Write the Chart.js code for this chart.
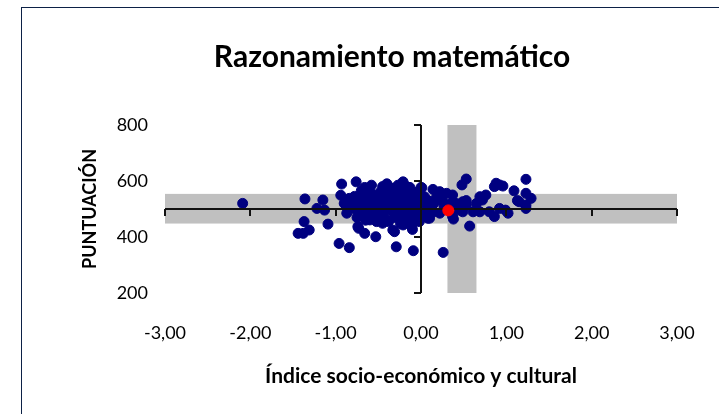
<!DOCTYPE html>
<html>
<head>
<meta charset="utf-8">
<script src="https://cdn.jsdelivr.net/npm/chart.js@4"></script>
<style>
  html, body { margin: 0; padding: 0; background: #fff; }
  #wrap { position: relative; width: 719px; height: 414px; }
  #frame { position: absolute; left: 21px; top: 7px; width: 697px; height: 420px;
           border: 1px solid #0c2146; border-bottom: none; }
</style>
</head>
<body>
<div id="wrap">
  <canvas id="chart" width="719" height="414"></canvas>
  <div id="frame"></div>
</div>
<script>
// indice socio-economico (x) / puntuacion (y) de cada centro
var indice = [
  -2.09, -1.36, -1.15, -1.22, -1.13, -1.37, -1.38, -1.31, -1.44, -1.09, -0.96, -0.84,
  -0.93, -0.94, -0.76, -0.66, -0.84, -0.87, -0.74, -0.66, -0.53, -0.73,
  -0.29, -0.09, -0.31, -0.10, -0.21, -0.13, -0.31, -0.45, -0.49, 0.00, 0.14, -0.22,
  -0.60, -0.45, -0.21, -0.06, 0.08, -0.33, -0.11,
  -0.80, -0.78, -0.72, -0.70, -0.68, -0.65, -0.62, -0.60, -0.58, -0.55, -0.55, -0.52,
  -0.50, -0.48, -0.46, -0.44, -0.42, -0.40, -0.38, -0.36, -0.35, -0.33, -0.31, -0.30,
  -0.28, -0.26, -0.25, -0.23, -0.21, -0.20, -0.18, -0.17, -0.15, -0.14, -0.12, -0.11,
  -0.09, -0.08, -0.06, -0.05, -0.03, -0.02, 0.01, 0.03, 0.05, 0.06, -0.65, -0.70,
  -0.58, -0.40, -0.27, -0.45, -0.52, -0.38, -0.24, -0.62, -0.75, -0.85,
  -0.62, -0.55, -0.48, -0.35, -0.25, -0.15, -0.05, -0.70, -0.45, -0.30, -0.12, -0.02,
  0.08, 0.15, 0.25, 0.35, -0.78, -0.90,
  0.04, 0.06, 0.10, 0.22, 0.22, 0.30, 0.37, 0.49, 0.53, 0.61, 0.69, 0.37, 0.45, 0.80,
  0.65, 0.49, 0.41, 0.53, 0.38, 0.15, 0.12, 0.18, 0.27,
  0.53, 0.48, 1.23, 0.92, 0.86, 1.09, 0.76, 0.69, 0.72, 1.23, 1.29, 1.15, 1.23, 1.23,
  0.99, 1.02, 0.92, 0.86, 0.57, 0.26, 0.88, 0.96, 1.13, 0.01
];
var puntuacion = [
  520, 536, 532, 502, 496, 455, 413, 425, 413, 446, 377, 362,
  589, 549, 597, 577, 538, 485, 437, 413, 401, 431,
  365, 351, 419, 427, 597, 577, 574, 562, 550, 577, 570, 592,
  461, 449, 443, 461, 467, 425, 437,
  515, 500, 525, 490, 545, 510, 480, 530, 555, 500, 470, 520,
  540, 485, 505, 530, 465, 515, 550, 495, 575, 530, 470, 505,
  545, 485, 560, 520, 475, 500, 540, 580, 455, 515, 490, 555,
  530, 470, 505, 545, 485, 520, 500, 540, 475, 515, 460, 565,
  585, 590, 585, 580, 455, 455, 448, 500, 470, 510,
  565, 530, 560, 545, 530, 565, 560, 510, 475, 480, 470, 455,
  530, 490, 530, 520, 545, 520,
  544, 496, 467, 485, 562, 556, 550, 526, 514, 490, 490, 473, 496, 490,
  520, 490, 520, 530, 464, 520, 500, 540, 510,
  607, 586, 606, 586, 580, 565, 550, 544, 532, 556, 538, 526, 514, 502,
  496, 485, 502, 473, 439, 345, 592, 582, 530, 576
];
// el centro propio (punto rojo)
var centroX = [0.32];
var centroY = [495];

// franjas grises: media +- desviacion
var franjaPuntuacion = [448, 554];
var franjaIndice = [0.31, 0.65];

// ejes
var xTicks = [-3, -2, -1, 0, 1, 2, 3];
var yTicks = [200, 400, 600, 800];
var cruceY = 500;
var cruceX = 0;

var FONT = 'Lato, "Open Sans", sans-serif';

var points = indice.map(function(x, i) { return { x: x, y: puntuacion[i] }; });
var centro = centroX.map(function(x, i) { return { x: x, y: centroY[i] }; });

var franjas = {
  id: 'franjas',
  beforeDatasetsDraw: function(chart) {
    var ctx = chart.ctx, xs = chart.scales.x, ys = chart.scales.y;
    ctx.save();
    ctx.fillStyle = '#c0c0c0';
    var t = ys.getPixelForValue(franjaPuntuacion[1]);
    var b = ys.getPixelForValue(franjaPuntuacion[0]);
    ctx.fillRect(xs.getPixelForValue(xs.min), t, xs.getPixelForValue(xs.max) - xs.getPixelForValue(xs.min), b - t);
    var l = xs.getPixelForValue(franjaIndice[0]);
    var r = xs.getPixelForValue(franjaIndice[1]);
    ctx.fillRect(l, ys.getPixelForValue(ys.max), r - l, ys.getPixelForValue(ys.min) - ys.getPixelForValue(ys.max));
    ctx.restore();
  }
};

var ejes = {
  id: 'ejes',
  afterDatasetDraw: function(chart, args) {
    if (args.index !== 0) return;
    var ctx = chart.ctx, xs = chart.scales.x, ys = chart.scales.y;
    var x0 = Math.round(xs.getPixelForValue(cruceX));
    var y0 = Math.round(ys.getPixelForValue(cruceY));
    ctx.save();
    ctx.strokeStyle = '#111';
    ctx.lineWidth = 2;
    ctx.beginPath();
    ctx.moveTo(xs.getPixelForValue(xs.min), y0);
    ctx.lineTo(xs.getPixelForValue(xs.max), y0);
    xTicks.forEach(function(v) {
      var px = Math.round(xs.getPixelForValue(v));
      ctx.moveTo(px, y0);
      ctx.lineTo(px, y0 + 7);
    });
    ctx.moveTo(x0, ys.getPixelForValue(ys.min));
    ctx.lineTo(x0, ys.getPixelForValue(ys.max));
    yTicks.forEach(function(v) {
      var py = Math.round(ys.getPixelForValue(v));
      ctx.moveTo(x0, py);
      ctx.lineTo(x0 - 7, py);
    });
    ctx.stroke();
    ctx.restore();
  }
};

var titulo = {
  id: 'titulo',
  afterDraw: function(chart) {
    var ctx = chart.ctx;
    ctx.save();
    ctx.fillStyle = '#000';
    ctx.font = 'bold 30px ' + FONT;
    ctx.textAlign = 'center';
    ctx.textBaseline = 'middle';
    ctx.fillText('Razonamiento matemático', 392, 57);
    ctx.restore();
  }
};

new Chart(document.getElementById('chart'), {
  type: 'scatter',
  data: {
    datasets: [{
      label: 'Centros',
      data: points,
      backgroundColor: '#000080',
      borderColor: '#000080',
      pointRadius: 5,
      pointHoverRadius: 5,
      order: 1
    }, {
      label: 'Centro',
      data: centro,
      backgroundColor: '#ff0000',
      borderColor: '#ff0000',
      pointRadius: 5.5,
      pointHoverRadius: 5.5,
      order: 0
    }]
  },
  options: {
    responsive: false,
    animation: false,
    events: [],
    layout: { padding: { left: 0, right: 42, top: 125, bottom: 0 } },
    plugins: {
      legend: { display: false },
      title: { display: false },
      tooltip: { enabled: false }
    },
    scales: {
      x: {
        type: 'linear',
        min: -3,
        max: 3,
        grid: { display: false, drawTicks: false },
        border: { display: false },
        ticks: {
          stepSize: 1,
          padding: 29,
          color: '#000',
          font: { family: FONT, size: 18 },
          callback: function(v) { return v.toFixed(2).replace('.', ','); }
        },
        title: {
          display: true,
          text: 'Índice socio-económico y cultural',
          color: '#000',
          font: { family: FONT, size: 21, weight: 'bold' },
          padding: { top: 0, bottom: 25 }
        },
        afterFit: function(scale) {
          scale.height = 121;
          scale.paddingLeft = 0;
          scale.paddingRight = 0;
        }
      },
      y: {
        min: 200,
        max: 800,
        grid: { display: false, drawTicks: false },
        border: { display: false },
        ticks: {
          stepSize: 200,
          padding: 17,
          color: '#000',
          font: { family: FONT, size: 18 }
        },
        title: {
          display: true,
          text: 'PUNTUACIÓN',
          color: '#000',
          font: { family: FONT, size: 18, weight: 'bold' },
          padding: { top: 79, bottom: 0 }
        },
        afterFit: function(scale) { scale.width = 165; }
      }
    }
  },
  plugins: [franjas, ejes, titulo]
});
</script>
</body>
</html>
